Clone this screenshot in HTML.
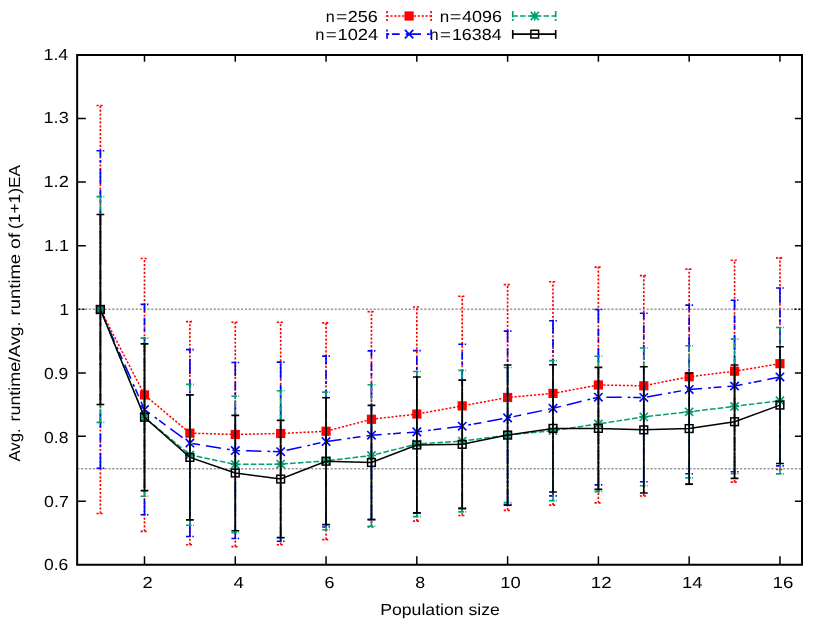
<!DOCTYPE html>
<html><head><meta charset="utf-8"><title>Population size plot</title>
<style>html,body{margin:0;padding:0;background:#fff}svg{display:block}text{font-family:"Liberation Sans",sans-serif;font-size:16px;fill:#000;text-rendering:geometricPrecision}</style></head>
<body>
<svg width="830" height="623" viewBox="0 0 830 623" style="will-change:transform">
<rect width="830" height="623" fill="#fff"/>
<g stroke="#999" stroke-width="1.6" stroke-dasharray="2.25 1.65" fill="none"><path d="M77.15 309.2H802"/><path d="M77.15 468.8H802"/></g>
<g fill="none" stroke="#ff0000" stroke-width="1.65" stroke-dasharray="2.2 1.7"><polyline points="100.4,309.5 144.5,394.93 189.89,433.17 235.28,434.45 280.67,433.49 326.06,431.26 371.45,419.28 416.83,414.05 462.22,405.89 507.61,397.48 553,393.4 598.39,384.98 643.78,385.81 689.17,376.76 734.56,371.21 779.95,363.69" stroke-width="1.5"/><path d="M100.4 513.5V105.5M144.5 531.35V258.5M189.89 544.74V321.61M235.28 546.65V322.25M280.67 544.74V322.25M326.06 539.64V322.89M371.45 526.95V311.6M416.83 521.15V306.95M462.22 515.54V296.24M507.61 510.31V284.64M553 505.09V281.71M598.39 502.85V267.11M643.78 496.03V275.59M689.17 484.43V269.08M734.56 482.13V260.29M779.95 469.51V257.86"/><path d="M96.5 513.5H104.3M96.5 105.5H104.3M140.6 531.35H148.4M140.6 258.5H148.4M185.99 544.74H193.79M185.99 321.61H193.79M231.38 546.65H239.18M231.38 322.25H239.18M276.77 544.74H284.57M276.77 322.25H284.57M322.16 539.64H329.96M322.16 322.89H329.96M367.55 526.95H375.35M367.55 311.6H375.35M412.93 521.15H420.73M412.93 306.95H420.73M458.32 515.54H466.12M458.32 296.24H466.12M503.71 510.31H511.51M503.71 284.64H511.51M549.1 505.09H556.9M549.1 281.71H556.9M594.49 502.85H602.29M594.49 267.11H602.29M639.88 496.03H647.68M639.88 275.59H647.68M685.27 484.43H693.07M685.27 269.08H693.07M730.66 482.13H738.46M730.66 260.29H738.46M776.05 469.51H783.85M776.05 257.86H783.85"/></g>
<g><rect x="95.8" y="304.9" width="9.2" height="9.2" fill="#ff0000"/><rect x="139.9" y="390.32" width="9.2" height="9.2" fill="#ff0000"/><rect x="185.29" y="428.57" width="9.2" height="9.2" fill="#ff0000"/><rect x="230.68" y="429.85" width="9.2" height="9.2" fill="#ff0000"/><rect x="276.07" y="428.89" width="9.2" height="9.2" fill="#ff0000"/><rect x="321.46" y="426.66" width="9.2" height="9.2" fill="#ff0000"/><rect x="366.85" y="414.68" width="9.2" height="9.2" fill="#ff0000"/><rect x="412.23" y="409.45" width="9.2" height="9.2" fill="#ff0000"/><rect x="457.62" y="401.29" width="9.2" height="9.2" fill="#ff0000"/><rect x="503.01" y="392.88" width="9.2" height="9.2" fill="#ff0000"/><rect x="548.4" y="388.8" width="9.2" height="9.2" fill="#ff0000"/><rect x="593.79" y="380.38" width="9.2" height="9.2" fill="#ff0000"/><rect x="639.18" y="381.21" width="9.2" height="9.2" fill="#ff0000"/><rect x="684.57" y="372.16" width="9.2" height="9.2" fill="#ff0000"/><rect x="729.96" y="366.61" width="9.2" height="9.2" fill="#ff0000"/><rect x="775.35" y="359.09" width="9.2" height="9.2" fill="#ff0000"/></g>
<g fill="none" stroke="#0000ff" stroke-width="1.65" stroke-dasharray="15.3 6 2.8 2.7 7.8 6"><polyline points="100.4,309.5 144.5,409.59 189.89,443.06 235.28,450.51 280.67,451.66 326.06,441.59 371.45,435.22 416.83,431.9 462.22,426.16 507.61,417.88 553,408.31 598.39,397.16 643.78,397.48 689.17,389.44 734.56,386 779.95,376.95" stroke-dashoffset="20.97" stroke-width="1.5"/><path d="M100.4 468.24V150.76M144.5 514.77V304.4M189.89 536.45V349.66M235.28 538.49V362.54M280.67 541.23V362.09M326.06 527.01V356.17M371.45 519.49V350.94M416.83 513.18V350.62M462.22 508.08V344.24M507.61 504.58V331.18M553 495.84V320.78M598.39 484.81V309.5M643.78 481.75V313.2M689.17 473.72V305.16M734.56 471.74V300.26M779.95 465.88V288.02"/><path d="M96.5 468.24H104.3M96.5 150.76H104.3M140.6 514.77H148.4M140.6 304.4H148.4M185.99 536.45H193.79M185.99 349.66H193.79M231.38 538.49H239.18M231.38 362.54H239.18M276.77 541.23H284.57M276.77 362.09H284.57M322.16 527.01H329.96M322.16 356.17H329.96M367.55 519.49H375.35M367.55 350.94H375.35M412.93 513.18H420.73M412.93 350.62H420.73M458.32 508.08H466.12M458.32 344.24H466.12M503.71 504.58H511.51M503.71 331.18H511.51M549.1 495.84H556.9M549.1 320.78H556.9M594.49 484.81H602.29M594.49 309.5H602.29M639.88 481.75H647.68M639.88 313.2H647.68M685.27 473.72H693.07M685.27 305.16H693.07M730.66 471.74H738.46M730.66 300.26H738.46M776.05 465.88H783.85M776.05 288.02H783.85" stroke-dasharray="4.9 1.5 2"/></g>
<g><path d="M96.2 305.3L104.6 313.7M96.2 313.7L104.6 305.3" fill="none" stroke="#0000ff" stroke-width="1.65"/><path d="M140.3 405.39L148.7 413.79M140.3 413.79L148.7 405.39" fill="none" stroke="#0000ff" stroke-width="1.65"/><path d="M185.69 438.86L194.09 447.26M185.69 447.26L194.09 438.86" fill="none" stroke="#0000ff" stroke-width="1.65"/><path d="M231.08 446.31L239.48 454.71M231.08 454.71L239.48 446.31" fill="none" stroke="#0000ff" stroke-width="1.65"/><path d="M276.47 447.46L284.87 455.86M276.47 455.86L284.87 447.46" fill="none" stroke="#0000ff" stroke-width="1.65"/><path d="M321.86 437.39L330.26 445.79M321.86 445.79L330.26 437.39" fill="none" stroke="#0000ff" stroke-width="1.65"/><path d="M367.25 431.02L375.65 439.42M367.25 439.42L375.65 431.02" fill="none" stroke="#0000ff" stroke-width="1.65"/><path d="M412.63 427.7L421.03 436.1M412.63 436.1L421.03 427.7" fill="none" stroke="#0000ff" stroke-width="1.65"/><path d="M458.02 421.96L466.42 430.36M458.02 430.36L466.42 421.96" fill="none" stroke="#0000ff" stroke-width="1.65"/><path d="M503.41 413.68L511.81 422.07M503.41 422.07L511.81 413.68" fill="none" stroke="#0000ff" stroke-width="1.65"/><path d="M548.8 404.11L557.2 412.51M548.8 412.51L557.2 404.11" fill="none" stroke="#0000ff" stroke-width="1.65"/><path d="M594.19 392.96L602.59 401.36M594.19 401.36L602.59 392.96" fill="none" stroke="#0000ff" stroke-width="1.65"/><path d="M639.58 393.28L647.98 401.68M639.58 401.68L647.98 393.28" fill="none" stroke="#0000ff" stroke-width="1.65"/><path d="M684.97 385.24L693.37 393.64M684.97 393.64L693.37 385.24" fill="none" stroke="#0000ff" stroke-width="1.65"/><path d="M730.36 381.8L738.76 390.2M730.36 390.2L738.76 381.8" fill="none" stroke="#0000ff" stroke-width="1.65"/><path d="M775.75 372.75L784.15 381.15M775.75 381.15L784.15 372.75" fill="none" stroke="#0000ff" stroke-width="1.65"/></g>
<g fill="none" stroke="#009e73" stroke-width="1.65" stroke-dasharray="5.7 2.15"><polyline points="100.4,309.5 144.5,417.24 189.89,454.85 235.28,464.41 280.67,464.09 326.06,460.91 371.45,455.49 416.83,444.01 462.22,441.14 507.61,435.09 553,430.62 598.39,423.93 643.78,416.86 689.17,411.82 734.56,406.4 779.95,400.66" stroke-dashoffset="6.1" stroke-width="1.5"/><path d="M100.4 422.34V196.66M144.5 496.29V338.19M189.89 525.29V384.41M235.28 532.62V396.2M280.67 537.41V390.78M326.06 529.76V392.06M371.45 526.25V384.73M416.83 516.56V371.46M462.22 511.91V370.38M507.61 502.66V367.51M553 500.62V360.63M598.39 491.63V356.23M643.78 485.7V348M689.17 477.93V345.71M734.56 473.72V339.08M779.95 473.85V327.48"/><path d="M96.5 422.34H104.3M96.5 196.66H104.3M140.6 496.29H148.4M140.6 338.19H148.4M185.99 525.29H193.79M185.99 384.41H193.79M231.38 532.62H239.18M231.38 396.2H239.18M276.77 537.41H284.57M276.77 390.78H284.57M322.16 529.76H329.96M322.16 392.06H329.96M367.55 526.25H375.35M367.55 384.73H375.35M412.93 516.56H420.73M412.93 371.46H420.73M458.32 511.91H466.12M458.32 370.38H466.12M503.71 502.66H511.51M503.71 367.51H511.51M549.1 500.62H556.9M549.1 360.63H556.9M594.49 491.63H602.29M594.49 356.23H602.29M639.88 485.7H647.68M639.88 348H647.68M685.27 477.93H693.07M685.27 345.71H693.07M730.66 473.72H738.46M730.66 339.08H738.46M776.05 473.85H783.85M776.05 327.48H783.85" stroke-dasharray="5.6 1.4 2"/></g>
<g><path d="M96.3 305.4L104.5 313.6M96.3 313.6L104.5 305.4M95.9 309.5L104.9 309.5M100.4 305L100.4 314" fill="none" stroke="#009e73" stroke-width="1.65"/><path d="M140.4 413.14L148.6 421.34M140.4 421.34L148.6 413.14M140 417.24L149 417.24M144.5 412.74L144.5 421.74" fill="none" stroke="#009e73" stroke-width="1.65"/><path d="M185.79 450.75L193.99 458.95M185.79 458.95L193.99 450.75M185.39 454.85L194.39 454.85M189.89 450.35L189.89 459.35" fill="none" stroke="#009e73" stroke-width="1.65"/><path d="M231.18 460.31L239.38 468.51M231.18 468.51L239.38 460.31M230.78 464.41L239.78 464.41M235.28 459.91L235.28 468.91" fill="none" stroke="#009e73" stroke-width="1.65"/><path d="M276.57 459.99L284.77 468.19M276.57 468.19L284.77 459.99M276.17 464.09L285.17 464.09M280.67 459.59L280.67 468.59" fill="none" stroke="#009e73" stroke-width="1.65"/><path d="M321.96 456.81L330.16 465.01M321.96 465.01L330.16 456.81M321.56 460.91L330.56 460.91M326.06 456.41L326.06 465.41" fill="none" stroke="#009e73" stroke-width="1.65"/><path d="M367.35 451.39L375.55 459.59M367.35 459.59L375.55 451.39M366.95 455.49L375.95 455.49M371.45 450.99L371.45 459.99" fill="none" stroke="#009e73" stroke-width="1.65"/><path d="M412.73 439.91L420.93 448.11M412.73 448.11L420.93 439.91M412.33 444.01L421.33 444.01M416.83 439.51L416.83 448.51" fill="none" stroke="#009e73" stroke-width="1.65"/><path d="M458.12 437.04L466.32 445.24M458.12 445.24L466.32 437.04M457.72 441.14L466.72 441.14M462.22 436.64L462.22 445.64" fill="none" stroke="#009e73" stroke-width="1.65"/><path d="M503.51 430.99L511.71 439.19M503.51 439.19L511.71 430.99M503.11 435.09L512.11 435.09M507.61 430.59L507.61 439.59" fill="none" stroke="#009e73" stroke-width="1.65"/><path d="M548.9 426.52L557.1 434.73M548.9 434.73L557.1 426.52M548.5 430.62L557.5 430.62M553 426.12L553 435.12" fill="none" stroke="#009e73" stroke-width="1.65"/><path d="M594.29 419.83L602.49 428.03M594.29 428.03L602.49 419.83M593.89 423.93L602.89 423.93M598.39 419.43L598.39 428.43" fill="none" stroke="#009e73" stroke-width="1.65"/><path d="M639.68 412.75L647.88 420.96M639.68 420.96L647.88 412.75M639.28 416.86L648.28 416.86M643.78 412.36L643.78 421.36" fill="none" stroke="#009e73" stroke-width="1.65"/><path d="M685.07 407.72L693.27 415.92M685.07 415.92L693.27 407.72M684.67 411.82L693.67 411.82M689.17 407.32L689.17 416.32" fill="none" stroke="#009e73" stroke-width="1.65"/><path d="M730.46 402.3L738.66 410.5M730.46 410.5L738.66 402.3M730.06 406.4L739.06 406.4M734.56 401.9L734.56 410.9" fill="none" stroke="#009e73" stroke-width="1.65"/><path d="M775.85 396.56L784.05 404.76M775.85 404.76L784.05 396.56M775.45 400.66L784.45 400.66M779.95 396.16L779.95 405.16" fill="none" stroke="#009e73" stroke-width="1.65"/></g>
<g fill="none" stroke="#000000" stroke-width="1.65"><polyline points="100.4,309.5 144.5,417.24 189.89,457.4 235.28,473.02 280.67,479.07 326.06,461.22 371.45,462.5 416.83,444.97 462.22,444.33 507.61,435.09 553,428.39 598.39,428.39 643.78,429.86 689.17,428.58 734.56,421.7 779.95,405.12" stroke-width="1.5"/><path d="M100.4 404.49V214.51M144.5 490.55V343.93M189.89 519.88V394.93M235.28 530.71V415.32M280.67 537.73V420.43M326.06 524.66V397.79M371.45 519.56V405.44M416.83 512.93V377.01M462.22 508.59V380.07M507.61 505.21V364.96M553 492.02V364.77M598.39 489.4V367.38M643.78 492.97V366.75M689.17 484.05V373.12M734.56 478.44V364.96M779.95 463.52V346.73"/><path d="M96.5 404.49H104.3M96.5 214.51H104.3M140.6 490.55H148.4M140.6 343.93H148.4M185.99 519.88H193.79M185.99 394.93H193.79M231.38 530.71H239.18M231.38 415.32H239.18M276.77 537.73H284.57M276.77 420.43H284.57M322.16 524.66H329.96M322.16 397.79H329.96M367.55 519.56H375.35M367.55 405.44H375.35M412.93 512.93H420.73M412.93 377.01H420.73M458.32 508.59H466.12M458.32 380.07H466.12M503.71 505.21H511.51M503.71 364.96H511.51M549.1 492.02H556.9M549.1 364.77H556.9M594.49 489.4H602.29M594.49 367.38H602.29M639.88 492.97H647.68M639.88 366.75H647.68M685.27 484.05H693.07M685.27 373.12H693.07M730.66 478.44H738.46M730.66 364.96H738.46M776.05 463.52H783.85M776.05 346.73H783.85"/></g>
<g><rect x="96.55" y="305.65" width="7.7" height="7.7" fill="none" stroke="#000000" stroke-width="1.5"/><rect x="140.65" y="413.39" width="7.7" height="7.7" fill="none" stroke="#000000" stroke-width="1.5"/><rect x="186.04" y="453.55" width="7.7" height="7.7" fill="none" stroke="#000000" stroke-width="1.5"/><rect x="231.43" y="469.17" width="7.7" height="7.7" fill="none" stroke="#000000" stroke-width="1.5"/><rect x="276.82" y="475.22" width="7.7" height="7.7" fill="none" stroke="#000000" stroke-width="1.5"/><rect x="322.21" y="457.37" width="7.7" height="7.7" fill="none" stroke="#000000" stroke-width="1.5"/><rect x="367.6" y="458.65" width="7.7" height="7.7" fill="none" stroke="#000000" stroke-width="1.5"/><rect x="412.98" y="441.12" width="7.7" height="7.7" fill="none" stroke="#000000" stroke-width="1.5"/><rect x="458.37" y="440.48" width="7.7" height="7.7" fill="none" stroke="#000000" stroke-width="1.5"/><rect x="503.76" y="431.24" width="7.7" height="7.7" fill="none" stroke="#000000" stroke-width="1.5"/><rect x="549.15" y="424.54" width="7.7" height="7.7" fill="none" stroke="#000000" stroke-width="1.5"/><rect x="594.54" y="424.54" width="7.7" height="7.7" fill="none" stroke="#000000" stroke-width="1.5"/><rect x="639.93" y="426.01" width="7.7" height="7.7" fill="none" stroke="#000000" stroke-width="1.5"/><rect x="685.32" y="424.73" width="7.7" height="7.7" fill="none" stroke="#000000" stroke-width="1.5"/><rect x="730.71" y="417.85" width="7.7" height="7.7" fill="none" stroke="#000000" stroke-width="1.5"/><rect x="776.1" y="401.27" width="7.7" height="7.7" fill="none" stroke="#000000" stroke-width="1.5"/></g>
<path d="M77.15 54.95H802V564.8H77.15Z" fill="none" stroke="#000" stroke-width="2" stroke-linejoin="miter"/>
<path d="M144.5 564.8V556.3M144.5 54.95V61.85M235.28 564.8V556.3M235.28 54.95V61.85M326.06 564.8V556.3M326.06 54.95V61.85M416.83 564.8V556.3M416.83 54.95V61.85M507.61 564.8V556.3M507.61 54.95V61.85M598.39 564.8V556.3M598.39 54.95V61.85M689.17 564.8V556.3M689.17 54.95V61.85M779.95 564.8V556.3M779.95 54.95V61.85M77.15 501.3H85.85M802 501.3H794.9M77.15 436.3H85.85M802 436.3H794.9M77.15 372.95H85.85M802 372.95H794.9M77.15 245.7H85.85M802 245.7H794.9M77.15 182.05H85.85M802 182.05H794.9M77.15 118.45H85.85M802 118.45H794.9" fill="none" stroke="#000" stroke-width="1.5"/>
<path d="M78.5 309.3H86.5M794.4 309.3H802" fill="none" stroke="#000" stroke-width="1.5" stroke-dasharray="2 1.9"/>
<text x="325.75" y="21.9" textLength="8.96" lengthAdjust="spacingAndGlyphs">n</text><text x="335.99" y="21.9" textLength="11.31" lengthAdjust="spacingAndGlyphs">=</text><text x="347.76" y="21.9" textLength="30.1" lengthAdjust="spacingAndGlyphs">256</text><text x="315.3" y="39.8" textLength="9.17" lengthAdjust="spacingAndGlyphs">n</text><text x="325.73" y="39.8" textLength="10.96" lengthAdjust="spacingAndGlyphs">=</text><text x="337.51" y="39.8" textLength="40.63" lengthAdjust="spacingAndGlyphs">1024</text><text x="439.88" y="21.9" textLength="9.48" lengthAdjust="spacingAndGlyphs">n</text><text x="449.8" y="21.9" textLength="11.57" lengthAdjust="spacingAndGlyphs">=</text><text x="462.03" y="21.9" textLength="39.94" lengthAdjust="spacingAndGlyphs">4096</text><text x="429.67" y="39.8" textLength="8.79" lengthAdjust="spacingAndGlyphs">n</text><text x="439.98" y="39.8" textLength="10.89" lengthAdjust="spacingAndGlyphs">=</text><text x="451.95" y="39.8" textLength="49.63" lengthAdjust="spacingAndGlyphs">16384</text><text x="380.26" y="615.3" textLength="119.55" lengthAdjust="spacingAndGlyphs">Population size</text><text x="43.98" y="570.3" textLength="24.29" lengthAdjust="spacingAndGlyphs">0.6</text><text x="44.12" y="506.6" textLength="24.64" lengthAdjust="spacingAndGlyphs">0.7</text><text x="44.11" y="442.7" textLength="24.3" lengthAdjust="spacingAndGlyphs">0.8</text><text x="43.95" y="379" textLength="24.28" lengthAdjust="spacingAndGlyphs">0.9</text><text x="59.47" y="315.3" textLength="9.49" lengthAdjust="spacingAndGlyphs">1</text><text x="44.06" y="250.6" textLength="24.94" lengthAdjust="spacingAndGlyphs">1.1</text><text x="43.47" y="186.8" textLength="25.38" lengthAdjust="spacingAndGlyphs">1.2</text><text x="43.53" y="123.1" textLength="25.25" lengthAdjust="spacingAndGlyphs">1.3</text><text x="43.55" y="59.6" textLength="24.69" lengthAdjust="spacingAndGlyphs">1.4</text><text x="142.63" y="587.8" textLength="10.16" lengthAdjust="spacingAndGlyphs">2</text><text x="233.52" y="587.8" textLength="10.35" lengthAdjust="spacingAndGlyphs">4</text><text x="324.5" y="587.8" textLength="9.96" lengthAdjust="spacingAndGlyphs">6</text><text x="415.33" y="587.8" textLength="9.9" lengthAdjust="spacingAndGlyphs">8</text><text x="500.21" y="587.8" textLength="20.46" lengthAdjust="spacingAndGlyphs">10</text><text x="590.78" y="587.8" textLength="20.86" lengthAdjust="spacingAndGlyphs">12</text><text x="682.03" y="587.8" textLength="20.52" lengthAdjust="spacingAndGlyphs">14</text><text x="772.62" y="587.8" textLength="20.76" lengthAdjust="spacingAndGlyphs">16</text>
<text transform="translate(19.5 461.6) rotate(-90)" textLength="33.2" lengthAdjust="spacingAndGlyphs">Avg.</text><text transform="translate(19.5 421.5) rotate(-90)" textLength="100" lengthAdjust="spacingAndGlyphs">runtime/Avg.</text><text transform="translate(19.5 315.4) rotate(-90)" textLength="61.5" lengthAdjust="spacingAndGlyphs">runtime</text><text transform="translate(19.5 249) rotate(-90)" textLength="16.2" lengthAdjust="spacingAndGlyphs">of</text><text transform="translate(19.5 228.9) rotate(-90)" textLength="64" lengthAdjust="spacingAndGlyphs">(1+1)EA</text>
<g fill="none" stroke="#ff0000" stroke-width="1.65"><path d="M387.05 16H431.1" stroke-dasharray="2.2 1.7" stroke-dashoffset="0.55"/><path d="M387.05 11.1V20.9" stroke-dasharray="2.1 1.8"/><path d="M431.1 11.1V20.9" stroke-dasharray="2.1 1.8"/></g><rect x="404.5" y="11.4" width="9.2" height="9.2" fill="#ff0000"/>
<g fill="none" stroke="#0000ff" stroke-width="1.65"><path d="M387.05 34.15H431.1" stroke-dasharray="15.3 6 2.8 2.7 7.8 6" stroke-dashoffset="21.95"/><path d="M387.05 29.6V38.7" stroke-dasharray="2 1.4 5.7"/><path d="M431.1 29.6V38.7" stroke-dasharray="6 1.2 2"/></g><path d="M404.9 29.95L413.3 38.35M404.9 38.35L413.3 29.95" fill="none" stroke="#0000ff" stroke-width="1.65"/>
<g fill="none" stroke="#009e73" stroke-width="1.65"><path d="M512.75 16H555.7" stroke-dasharray="5.7 2.15" stroke-dashoffset="0.6"/><path d="M512.75 11.1V20.9" stroke-dasharray="6.2 1.7 2"/><path d="M555.7 11.1V20.9" stroke-dasharray="6.2 1.7 2"/></g><path d="M530.65 11.9L538.85 20.1M530.65 20.1L538.85 11.9M530.25 16L539.25 16M534.75 11.5L534.75 20.5" fill="none" stroke="#009e73" stroke-width="1.65"/>
<g fill="none" stroke="#000000" stroke-width="1.65"><path d="M512.75 34.15H555.7M512.75 29.95V38.75M555.7 29.95V38.75"/></g><rect x="530.9" y="30.3" width="7.7" height="7.7" fill="none" stroke="#000000" stroke-width="1.5"/>
</svg>
</body></html>
